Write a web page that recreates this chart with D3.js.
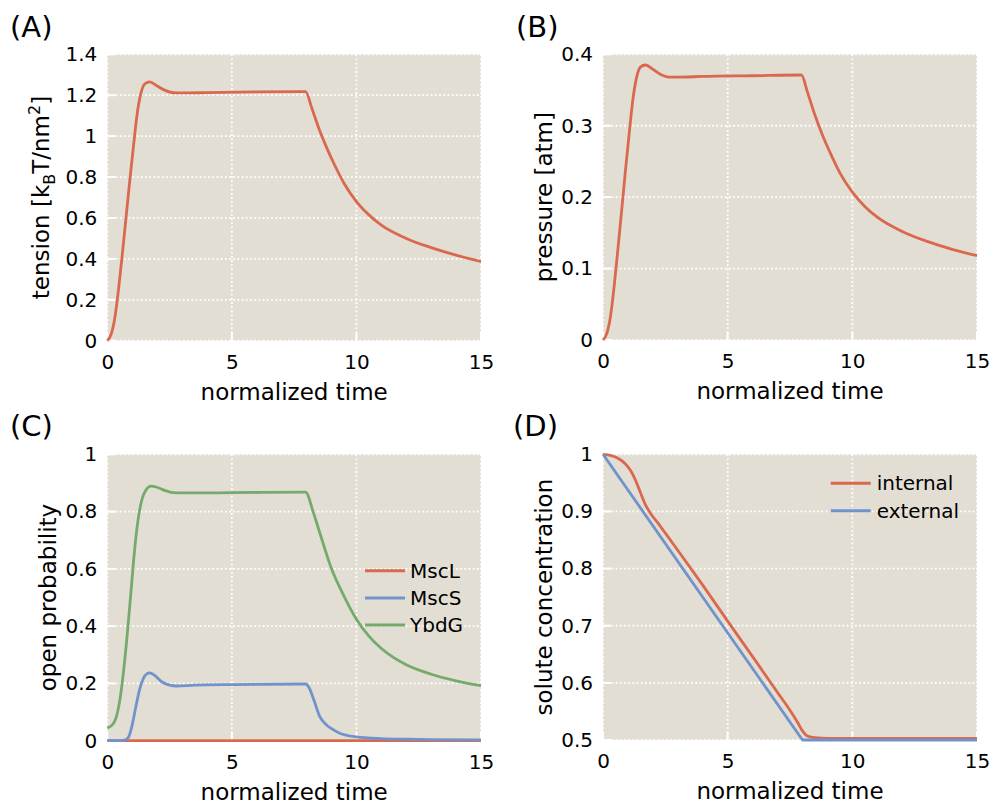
<!DOCTYPE html>
<html>
<head>
<meta charset="utf-8">
<script src="https://cdn.jsdelivr.net/npm/d3@7"></script>
<style>
body { margin: 0; background: #fff; }
text { font-family: "DejaVu Sans", sans-serif; fill: #000; }
</style>
</head>
<body>
<script>
const w = 993;
const h = 808;

// [normalized time, value]
const tension = [[0,0],[0.15,0.03],[0.3,0.11],[0.45,0.25],[0.6,0.42],[0.75,0.6],[0.9,0.78],[1.05,0.95],[1.2,1.11],
  [1.35,1.21],[1.5,1.255],[1.7,1.265],[2.0,1.245],[2.3,1.225],[2.65,1.212],[3.0,1.211],[4,1.213],
  [6,1.216],[7.96,1.218],[8.2,1.14],[8.5,1.035],[8.8,0.945],[9.1,0.865],[9.5,0.77],[10,0.68],[10.5,0.615],
  [11,0.565],[12,0.5],[13,0.455],[14,0.418],[15,0.387]];

const pressure = [[0,0],[0.15,0.009],[0.3,0.033],[0.45,0.076],[0.6,0.128],[0.75,0.182],[0.9,0.237],[1.05,0.289],[1.2,0.337],
  [1.35,0.368],[1.5,0.382],[1.7,0.385],[2.0,0.379],[2.3,0.372],[2.65,0.368],[3.0,0.368],[4,0.369],
  [6,0.37],[7.96,0.371],[8.2,0.347],[8.5,0.315],[8.8,0.287],[9.1,0.263],[9.5,0.234],[10,0.207],[10.5,0.187],
  [11,0.172],[12,0.152],[13,0.138],[14,0.127],[15,0.118]];

const mscL = [[0,0],[5,0],[10,0],[15,0]];

const mscS = [[0,0],[0.5,0],[0.7,0.002],[0.85,0.012],[1.0,0.055],[1.15,0.12],[1.3,0.18],[1.45,0.218],[1.6,0.234],[1.71,0.237],
  [1.9,0.228],[2.2,0.205],[2.5,0.194],[2.78,0.191],[3.5,0.194],[5,0.196],[7.96,0.198],[8.1,0.185],[8.3,0.14],[8.53,0.084],
  [8.8,0.055],[9.0,0.042],[9.33,0.026],[10,0.013],[11,0.007],[12,0.005],[13,0.004],[15,0.003]];

const ybdG = [[0,0.045],[0.2,0.055],[0.35,0.08],[0.5,0.14],[0.65,0.24],[0.8,0.37],[0.95,0.52],[1.1,0.67],[1.25,0.78],
  [1.4,0.845],[1.55,0.875],[1.75,0.889],[2.0,0.885],[2.3,0.874],[2.65,0.866],[3,0.865],[5,0.866],[7.96,0.868],
  [8.26,0.8],[8.5,0.734],[9.0,0.6],[9.5,0.505],[10,0.424],[10.5,0.365],[11,0.322],[11.5,0.29],[12,0.265],
  [13,0.232],[14,0.209],[15,0.192]];

const internal = [[0,1],[0.3,0.998],[0.6,0.993],[0.9,0.983],[1.1,0.972],[1.3,0.955],[1.5,0.933],[1.7,0.912],[1.9,0.897],
  [2.2,0.88],[2.5,0.862],[3.1,0.826],[4,0.771],[5,0.708],[6,0.646],[7,0.583],[7.5,0.552],[7.8,0.531],[8.0,0.516],
  [8.2,0.507],[8.5,0.504],[9,0.503],[15,0.503]];

const external = [[0,1],[8,0.5],[15,0.5]];

const xTicks = [0, 5, 10, 15];
const tensionTicks = [0, 0.2, 0.4, 0.6, 0.8, 1, 1.2, 1.4];
const pressureTicks = [0, 0.1, 0.2, 0.3, 0.4];
const probTicks = [0, 0.2, 0.4, 0.6, 0.8, 1];
const concTicks = [0.5, 0.6, 0.7, 0.8, 0.9, 1];

const red = "#d9684f", blue = "#7093cb", green = "#74aa6c";
const bg = "#e3ded3";

const svg = d3.select("body")
    .append("svg")
    .attr("width", w)
    .attr("height", h);

svg.append("rect").attr("width", w).attr("height", h).attr("fill", "#fff");

function drawPanel(p) {
    const xScale = d3.scaleLinear().domain([0, 15]).range([p.left, p.right]);
    const yScale = d3.scaleLinear().domain(p.yDomain).range([p.bottom, p.top]);
    const g = svg.append("g");

    g.append("rect")
        .attr("x", p.left).attr("y", p.top)
        .attr("width", p.right - p.left).attr("height", p.bottom - p.top)
        .attr("fill", bg);

    // dotted grid
    g.selectAll(".gy").data(p.yTicks).enter().append("line")
        .attr("x1", p.left).attr("x2", p.right)
        .attr("y1", d => yScale(d)).attr("y2", d => yScale(d))
        .attr("stroke", "#fff").attr("stroke-width", 1.8).attr("stroke-dasharray", "1.8,2.4");
    g.selectAll(".gx").data(xTicks).enter().append("line")
        .attr("y1", p.top).attr("y2", p.bottom)
        .attr("x1", d => xScale(d)).attr("x2", d => xScale(d))
        .attr("stroke", "#fff").attr("stroke-width", 1.8).attr("stroke-dasharray", "1.8,2.4");

    // white inward ticks
    g.selectAll(".ty").data(p.yTicks).enter().append("line")
        .attr("x1", p.left).attr("x2", p.left + 8)
        .attr("y1", d => yScale(d)).attr("y2", d => yScale(d))
        .attr("stroke", "#fff").attr("stroke-width", 2);
    g.selectAll(".tx").data(xTicks).enter().append("line")
        .attr("y1", p.bottom).attr("y2", p.bottom - 8)
        .attr("x1", d => xScale(d)).attr("x2", d => xScale(d))
        .attr("stroke", "#fff").attr("stroke-width", 2);

    const yAxis = d3.axisLeft(yScale).tickValues(p.yTicks).tickSize(0).tickPadding(10)
        .tickFormat(d => String(+d.toFixed(2)));
    const xAxis = d3.axisBottom(xScale).tickValues(xTicks).tickSize(0).tickPadding(14)
        .tickFormat(d3.format("d"));

    const ya = g.append("g").attr("transform", `translate(${p.left},0)`).call(yAxis);
    const xa = g.append("g").attr("transform", `translate(0,${p.bottom})`).call(xAxis);
    [ya, xa].forEach(a => {
        a.select(".domain").remove();
        a.selectAll("text").style("font-size", "20px").style("font-family", "DejaVu Sans").attr("fill", "#000");
    });

    p.series.forEach(s => {
        const line = d3.line()
            .x(d => xScale(d[0]))
            .y(d => yScale(d[1]))
            .curve(s.straight ? d3.curveLinear : d3.curveMonotoneX);
        g.append("path")
            .datum(s.data)
            .attr("d", line)
            .attr("fill", "none")
            .attr("stroke", s.color)
            .attr("stroke-width", 2.8)
            .attr("stroke-linejoin", "round");
    });

    g.append("text")
        .attr("x", (p.left + p.right) / 2)
        .attr("y", p.bottom + 59)
        .attr("text-anchor", "middle")
        .style("font-size", "23px")
        .text("normalized time");

    g.append("text")
        .attr("x", p.letterX).attr("y", p.letterY)
        .style("font-size", "29px")
        .text(p.letter);

    const yl = g.append("text")
        .attr("transform", `translate(${p.ylabelX},${(p.top + p.bottom) / 2}) rotate(-90)`)
        .attr("text-anchor", "middle")
        .style("font-size", "23px");
    p.ylabel.forEach(part => {
        const t = yl.append("tspan").text(part.text);
        if (part.dy) t.attr("dy", part.dy);
        if (part.small) t.style("font-size", "16px");
    });

    if (p.legend) {
        const lg = g.append("g");
        p.legend.items.forEach((it, i) => {
            const y = p.legend.y + i * p.legend.step;
            lg.append("line")
                .attr("x1", p.legend.x).attr("x2", p.legend.x + 40)
                .attr("y1", y).attr("y2", y)
                .attr("stroke", it.color).attr("stroke-width", 3);
            lg.append("text")
                .attr("x", p.legend.x + p.legend.gap)
                .attr("y", y).attr("dy", "0.35em")
                .style("font-size", "20px")
                .text(it.name);
        });
    }
}

drawPanel({
    left: 107.3, right: 481, top: 54.3, bottom: 340.7,
    yDomain: [0, 1.4], yTicks: tensionTicks,
    series: [{data: tension, color: red}],
    letter: "(A)", letterX: 10, letterY: 37,
    ylabelX: 48.5,
    ylabel: [{text: "tension [k"}, {text: "B", small: true, dy: 6}, {text: "T/nm", dy: -6},
             {text: "2", small: true, dy: -9}, {text: "]", dy: 9}]
});

drawPanel({
    left: 603, right: 977, top: 54.3, bottom: 340,
    yDomain: [0, 0.4], yTicks: pressureTicks,
    series: [{data: pressure, color: red}],
    letter: "(B)", letterX: 516, letterY: 37,
    ylabelX: 552,
    ylabel: [{text: "pressure [atm]"}]
});

drawPanel({
    left: 107.3, right: 481, top: 454.3, bottom: 740.7,
    yDomain: [0, 1], yTicks: probTicks,
    series: [{data: mscL, color: red}, {data: mscS, color: blue}, {data: ybdG, color: green}],
    letter: "(C)", letterX: 10, letterY: 436,
    ylabelX: 56,
    ylabel: [{text: "open probability"}],
    legend: {x: 365, y: 570.7, step: 27.2, gap: 45,
             items: [{name: "MscL", color: red}, {name: "MscS", color: blue}, {name: "YbdG", color: green}]}
});

drawPanel({
    left: 603, right: 977, top: 454.3, bottom: 740,
    yDomain: [0.5, 1], yTicks: concTicks,
    series: [{data: internal, color: red}, {data: external, color: blue, straight: true}],
    letter: "(D)", letterX: 513, letterY: 436,
    ylabelX: 552,
    ylabel: [{text: "solute concentration"}],
    legend: {x: 830.7, y: 483.3, step: 27.4, gap: 46,
             items: [{name: "internal", color: red}, {name: "external", color: blue}]}
});
</script>
</body>
</html>
